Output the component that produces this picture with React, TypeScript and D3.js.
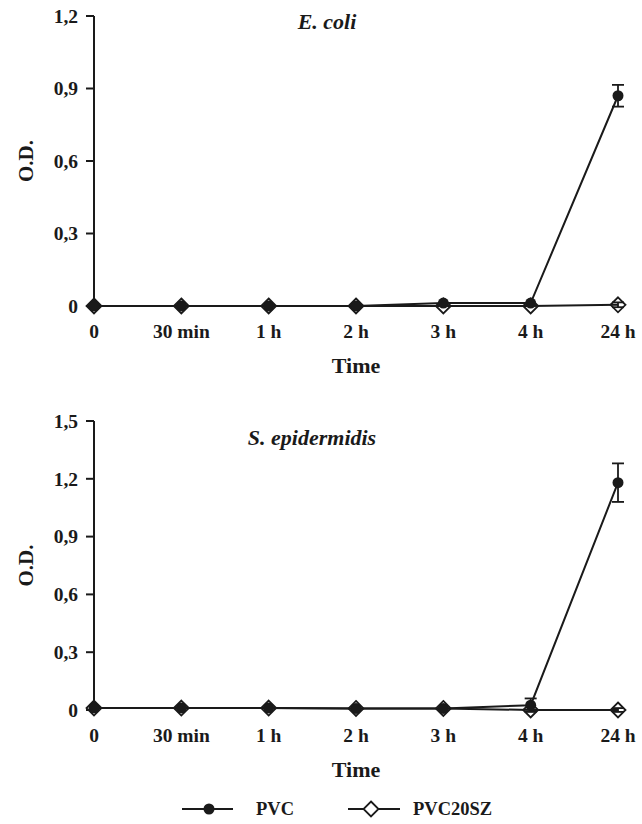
import * as d3 from "d3";
import React from "react";

const timeLabels = ["0", "30 min", "1 h", "2 h", "3 h", "4 h", "24 h"];

// E. coli panel
const ecoliTicks = [0, 0.3, 0.6, 0.9, 1.2];
const ecoliPVC = [0, 0, 0, 0, 0.012, 0.012, 0.87];
const ecoliPVCErr = [0, 0, 0, 0, 0, 0, 0.045];
const ecoliSZ = [0, 0, 0, 0, 0, 0, 0.005];
const ecoliSZErr = [0, 0, 0, 0, 0, 0, 0.01];

// S. epidermidis panel
const epiTicks = [0, 0.3, 0.6, 0.9, 1.2, 1.5];
const epiPVC = [0.01, 0.01, 0.01, 0.008, 0.008, 0.025, 1.18];
const epiPVCErr = [0, 0, 0, 0, 0, 0.035, 0.1];
const epiSZ = [0.01, 0.01, 0.01, 0.008, 0.008, 0, 0];
const epiSZErr = [0, 0, 0, 0, 0, 0, 0.01];

const legendNames = ["PVC", "PVC20SZ"];

const FONT = "'Liberation Serif', 'Times New Roman', serif";
const INK = "#1a1a1a";

const fmt = d3
  .formatLocale({ decimal: ",", thousands: ".", grouping: [3], currency: ["", ""] })
  .format(".1f");
const tickText = (t: number) => (t === 0 ? "0" : fmt(t));

const diamond = (x: number, y: number, r: number) =>
  `M${x},${y - r}L${x + r},${y}L${x},${y + r}L${x - r},${y}Z`;

function Panel(props: {
  top: number;
  bottom: number;
  title: string;
  titleX: number;
  titleY: number;
  ticks: number[];
  pvc: number[];
  pvcErr: number[];
  sz: number[];
  szErr: number[];
}) {
  const { top, bottom, ticks, pvc, pvcErr, sz, szErr } = props;
  const x = d3.scalePoint<string>().domain(timeLabels).range([94, 618]);
  const y = d3
    .scaleLinear()
    .domain([0, d3.max(ticks) as number])
    .range([bottom, top]);

  const line = d3
    .line<number>()
    .x((_, i) => x(timeLabels[i]) as number)
    .y((d) => y(d));

  const errBars = (vals: number[], errs: number[], key: string) =>
    vals.map((v, i) => {
      if (!errs[i]) return null;
      const cx = x(timeLabels[i]) as number;
      const y1 = y(v + errs[i]);
      const y2 = y(v - errs[i]);
      return (
        <g key={key + i} stroke={INK} strokeWidth={1.8}>
          <line x1={cx} x2={cx} y1={y1} y2={y2} />
          <line x1={cx - 6} x2={cx + 6} y1={y1} y2={y1} />
          <line x1={cx - 6} x2={cx + 6} y1={y2} y2={y2} />
        </g>
      );
    });

  return (
    <g>
      {/* y axis */}
      <line x1={94} x2={94} y1={y(d3.max(ticks) as number)} y2={y(0)} stroke={INK} strokeWidth={2} />
      {ticks.map((t) => (
        <g key={t}>
          <line x1={86} x2={94} y1={y(t)} y2={y(t)} stroke={INK} strokeWidth={2} />
          <text
            x={78}
            y={y(t)}
            dy="0.35em"
            textAnchor="end"
            fontFamily={FONT}
            fontWeight="bold"
            fontSize={19.5}
            fill={INK}
          >
            {tickText(t)}
          </text>
        </g>
      ))}
      <text
        transform={`translate(33,${(y(0) + y(d3.max(ticks) as number)) / 2}) rotate(-90)`}
        textAnchor="middle"
        fontFamily={FONT}
        fontWeight="bold"
        fontSize={21}
        fill={INK}
      >
        O.D.
      </text>

      {/* x labels */}
      {timeLabels.map((l) => (
        <text
          key={l}
          x={x(l)}
          y={bottom + 32}
          textAnchor="middle"
          fontFamily={FONT}
          fontWeight="bold"
          fontSize={19.5}
          fill={INK}
        >
          {l}
        </text>
      ))}
      <text
        x={356}
        y={bottom + 67}
        textAnchor="middle"
        fontFamily={FONT}
        fontWeight="bold"
        fontSize={22}
        fill={INK}
      >
        Time
      </text>

      <text
        x={props.titleX}
        y={props.titleY}
        textAnchor="middle"
        fontFamily={FONT}
        fontWeight="bold"
        fontStyle="italic"
        fontSize={22}
        fill={INK}
      >
        {props.title}
      </text>

      {/* series */}
      <path d={line(pvc) as string} fill="none" stroke={INK} strokeWidth={2} />
      <path d={line(sz) as string} fill="none" stroke={INK} strokeWidth={2} />
      {errBars(pvc, pvcErr, "pe")}
      {errBars(sz, szErr, "se")}
      {pvc.map((v, i) => (
        <circle key={"pc" + i} cx={x(timeLabels[i])} cy={y(v)} r={5.5} fill={INK} />
      ))}
      {sz.map((v, i) => (
        <path
          key={"sd" + i}
          d={diamond(x(timeLabels[i]) as number, y(v), 7.5)}
          fill="none"
          stroke={INK}
          strokeWidth={1.8}
        />
      ))}
    </g>
  );
}

export default function App() {
  const ly = 809;
  return (
    <svg
      width={642}
      height={824}
      style={{ position: "absolute", left: 0, top: 0, background: "#fff" }}
    >
      <rect width={642} height={824} fill="#fff" />
      <Panel
        top={16}
        bottom={306}
        title="E. coli"
        titleX={327}
        titleY={29}
        ticks={ecoliTicks}
        pvc={ecoliPVC}
        pvcErr={ecoliPVCErr}
        sz={ecoliSZ}
        szErr={ecoliSZErr}
      />
      <Panel
        top={421}
        bottom={710}
        title="S. epidermidis"
        titleX={312}
        titleY={445}
        ticks={epiTicks}
        pvc={epiPVC}
        pvcErr={epiPVCErr}
        sz={epiSZ}
        szErr={epiSZErr}
      />

      {/* legend */}
      <g>
        <line x1={182} x2={233} y1={ly} y2={ly} stroke={INK} strokeWidth={2} />
        <circle cx={209} cy={ly} r={5.5} fill={INK} />
        <text x={256} y={ly} dy="0.35em" fontFamily={FONT} fontWeight="bold" fontSize={18.5} fill={INK}>
          {legendNames[0]}
        </text>
        <line x1={348} x2={400} y1={ly} y2={ly} stroke={INK} strokeWidth={2} />
        <path d={diamond(371, ly, 7.5)} fill="#fff" stroke={INK} strokeWidth={1.8} />
        <text x={413} y={ly} dy="0.35em" fontFamily={FONT} fontWeight="bold" fontSize={18.5} fill={INK}>
          {legendNames[1]}
        </text>
      </g>
    </svg>
  );
}
